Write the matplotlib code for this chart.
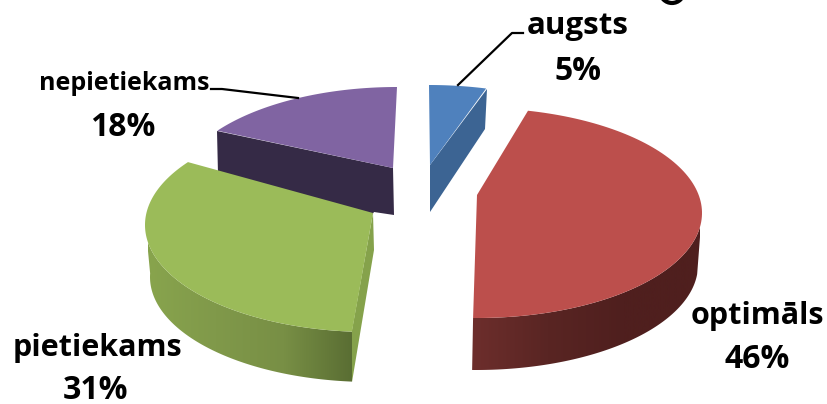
#!/usr/bin/env python3
import numpy as np
import matplotlib
matplotlib.use("Agg")
import matplotlib.pyplot as plt
from matplotlib.patches import Polygon
from matplotlib.colors import LinearSegmentedColormap

plt.rcParams['font.family'] = ['Open Sans', 'DejaVu Sans']

labels = ['augsts', 'optimāls', 'pietiekams', 'nepietiekams']
values = [5, 46, 31, 18]
pct_labels = ['5%', '46%', '31%', '18%']


def ring(cx, cy, rx, ry, a0, a1, n=120):
    # angles clockwise from 12 o'clock
    t = np.radians(np.linspace(a0, a1, n))
    return np.column_stack([cx + rx * np.sin(t), cy - ry * np.cos(t)])


def shaded(ax, pts, x0, x1, colors, z):
    cmap = LinearSegmentedColormap.from_list('s', colors)
    grad = np.linspace(0, 1, 256).reshape(1, -1)
    poly = Polygon(pts, closed=True, fc='none', ec='none', zorder=z)
    ax.add_patch(poly)
    im = ax.imshow(grad, cmap=cmap, extent=[x0, x1, 404, 0], aspect='auto', zorder=z)
    im.set_clip_path(poly)


fig = plt.figure(figsize=(8.27, 4.04), dpi=100)
ax = fig.add_axes([0, 0, 1, 1])
ax.set_xlim(0, 827)
ax.set_ylim(404, 0)
ax.axis('off')

edges = np.cumsum([0] + values) * 3.6

# purple, goes behind the green one
arc = ring(397, 193, 222, 106, edges[3] + 10.8, edges[4])
ax.add_patch(Polygon([(217, 131), (393, 168), (394, 215), (374, 212), (370, 218), (218, 174)], fc='#352a46', ec='none', zorder=1))
ax.add_patch(Polygon(np.vstack([[(393, 168)], arc]), fc='#8064a2', ec='none', zorder=2))

# green
a0, a1 = edges[2] + 1, edges[3] + 10.8
arc = ring(370, 225, 225, 107, a0, a1)
side = np.vstack([ring(370, 225, 225, 107, a0, 272), ring(371, 277, 221, 105, a0, 272)[::-1]])
shaded(ax, side, 148, 352, ['#88a44d', '#80994a', '#788f45', '#5a6e33'], 3)
ax.add_patch(Polygon([(373, 213), (374, 250), (352, 382), (352, 330)], fc='#85a24b', ec='none', zorder=3))
ax.add_patch(Polygon(np.vstack([[(373, 213)], arc]), fc='#9bbb59', ec='none', zorder=4))

# red
a0, a1 = edges[1] - 4.9, edges[2] - 2.6
arc = ring(477, 213, 225, 105, a0, a1)
side = np.vstack([ring(477, 213, 225, 105, 95, a1), ring(476, 265, 222, 105, 95, a1)[::-1]])
shaded(ax, side, 472, 700, ['#6d2e2c', '#592523', '#4f1f1e', '#4f1f1e'], 3)
ax.add_patch(Polygon(np.vstack([[(477, 195)], arc]), fc='#bc4f4c', ec='none', zorder=4))

# blue
arc = ring(429, 192, 225, 107, edges[0], edges[1] - 3.3)
ax.add_patch(Polygon([(430, 165), (487, 89), (485, 129), (430, 212)], fc='#3c6493', ec='none', zorder=1))
ax.add_patch(Polygon(np.vstack([[(430, 165)], arc]), fc='#4f81bd', ec='none', zorder=2))

# leader lines
ax.plot([458, 512, 523], [85, 33, 33], color='black', lw=1.6, zorder=5)
ax.plot([298, 222, 211], [98, 89, 89], color='black', lw=1.6, zorder=5)

ax.text(578, 26, labels[0], fontsize=22.5, fontweight='bold', ha='center', va='center')
ax.text(578, 71, pct_labels[0], fontsize=23, fontweight='bold', ha='center', va='center')
ax.text(757, 316, labels[1], fontsize=22, fontweight='bold', ha='center', va='center')
ax.text(757, 360, pct_labels[1], fontsize=23, fontweight='bold', ha='center', va='center')
ax.text(97, 348, labels[2], fontsize=22, fontweight='bold', ha='center', va='center')
ax.text(96, 399, pct_labels[2], fontsize=23, fontweight='bold', ha='center', va='baseline')
ax.text(124, 84, labels[3], fontsize=18, fontweight='bold', ha='center', va='center')
ax.text(123, 127, pct_labels[3], fontsize=23, fontweight='bold', ha='center', va='center')

# bottom of the cropped title letter
ax.add_patch(plt.Circle((672, -9), 12, fc='none', ec='black', lw=3, zorder=5))

fig.savefig('out.png', dpi=100)
